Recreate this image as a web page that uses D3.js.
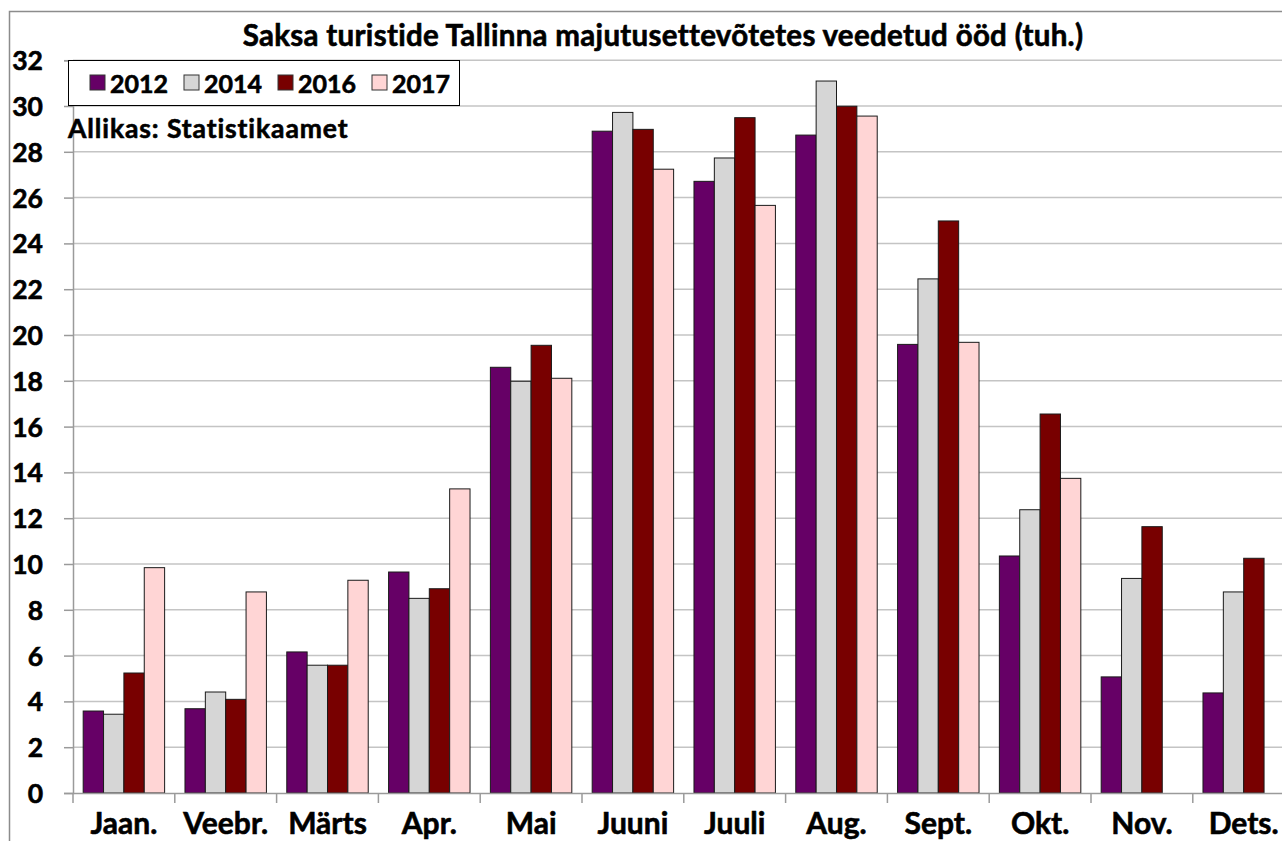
<!DOCTYPE html>
<html>
<head>
<meta charset="utf-8">
<script src="https://cdn.jsdelivr.net/npm/d3@7"></script>
<style>
  html, body { margin: 0; padding: 0; background: #fff; overflow: hidden; }
  svg { display: block; font-family: Lato, "Open Sans", sans-serif; font-weight: bold; }
  .bold { stroke: #000; stroke-width: 0.6px; paint-order: stroke; }
</style>
</head>
<body>
<div id="chart"></div>
<script>
// kuud ja aastad
const months = ["Jaan.", "Veebr.", "Märts", "Apr.", "Mai", "Juuni", "Juuli", "Aug.", "Sept.", "Okt.", "Nov.", "Dets."];
const years = ["2012", "2014", "2016", "2017"];

// ööbimised, tuh.
const v2012 = [3.58, 3.68, 6.16, 9.65, 18.59, 28.90, 26.71, 28.73, 19.59, 10.35, 5.07, 4.37];
const v2014 = [3.44, 4.41, 5.58, 8.50, 17.98, 29.72, 27.73, 31.09, 22.45, 12.37, 9.37, 8.78];
const v2016 = [5.24, 4.09, 5.58, 8.92, 19.55, 28.98, 29.49, 29.99, 24.98, 16.55, 11.63, 10.25];
const v2017 = [9.84, 8.78, 9.29, 13.28, 18.11, 27.24, 25.66, 29.56, 19.68, 13.74, null, null];

const yTicks = d3.range(0, 33, 2);
const colors = ["#660066", "#d6d6d6", "#780000", "#ffd5d5"];

const seriesVals = [v2012, v2014, v2016, v2017];

const W = 1282, H = 841;
const svg = d3.select("#chart").append("svg")
    .attr("width", W)
    .attr("height", H);

// chart frame (only top and left edge are visible)
svg.append("path")
    .attr("d", `M9.5,${H} V11.5 H${W}`)
    .attr("fill", "none")
    .attr("stroke", "#8c8c8c")
    .attr("stroke-width", 1.5);

const left = 73, catW = 101.8;
const x = d3.scaleBand().domain(months).range([left, left + catW * 12]).padding(0);
const xi = d3.scaleBand().domain(years)
    .range([x.bandwidth() * 0.1, x.bandwidth() * 0.9]).padding(0);
const y = d3.scaleLinear().domain([0, 32]).range([793, 60.2]);

// gridlines
svg.append("g")
    .selectAll("line")
    .data(yTicks.filter(d => d > 0))
    .join("line")
    .attr("x1", left)
    .attr("x2", W)
    .attr("y1", d => y(d))
    .attr("y2", d => y(d))
    .attr("stroke", "#c4c4c4")
    .attr("stroke-width", 1.5);

// y axis
const yAxis = svg.append("g")
    .attr("transform", `translate(${left},0)`)
    .call(d3.axisLeft(y).tickValues(yTicks).tickSize(9).tickPadding(21));
yAxis.select(".domain").attr("stroke", "#9a9a9a").attr("stroke-width", 1.5);
yAxis.selectAll(".tick line").attr("stroke", "#9a9a9a").attr("stroke-width", 1.5);
yAxis.selectAll(".tick text")
    .attr("class", "bold")
    .attr("font-size", 26.5)
    .attr("font-family", "Lato, sans-serif")
    .attr("font-weight", "bold")
    .attr("fill", "#000")
    .attr("dy", "0.36em");

// bars
const groups = svg.append("g")
    .selectAll("g")
    .data(months)
    .join("g")
    .attr("transform", d => `translate(${x(d)},0)`);

groups.selectAll("rect")
    .data((m, i) => years.map((yr, k) => ({ yr, k, v: seriesVals[k][i] })).filter(d => d.v != null))
    .join("rect")
    .attr("x", d => xi(d.yr))
    .attr("width", xi.bandwidth())
    .attr("y", d => y(d.v))
    .attr("height", d => y(0) - y(d.v))
    .attr("fill", d => colors[d.k])
    .attr("stroke", "#1a1a1a")
    .attr("stroke-width", 1);

// x axis
const xAxis = svg.append("g")
    .attr("transform", `translate(0,${y(0)})`)
    .call(d3.axisBottom(x).tickSize(0).tickPadding(0));
xAxis.select(".domain").attr("stroke", "#9a9a9a").attr("stroke-width", 1.5);
xAxis.selectAll(".tick text")
    .attr("class", "bold")
    .attr("font-size", 30)
    .attr("font-family", "Lato, sans-serif")
    .attr("font-weight", "bold")
    .attr("fill", "#000")
    .attr("y", 41)
    .attr("dy", 0);
// category separators
svg.append("g")
    .selectAll("line")
    .data(months)
    .join("line")
    .attr("x1", d => x(d))
    .attr("x2", d => x(d))
    .attr("y1", y(0))
    .attr("y2", y(0) + 10)
    .attr("stroke", "#9a9a9a")
    .attr("stroke-width", 1.5);

// title
svg.append("text")
    .attr("class", "bold")
    .attr("x", 663)
    .attr("y", 46)
    .attr("text-anchor", "middle")
    .attr("font-size", 29.5)
    .attr("letter-spacing", 0.3)
    .attr("fill", "#000")
    .text("Saksa turistide Tallinna majutusettevõtetes veedetud ööd (tuh.)");

// legend
const lg = svg.append("g");
lg.append("rect")
    .attr("x", 68.5).attr("y", 60.5)
    .attr("width", 391).attr("height", 45)
    .attr("fill", "#fff")
    .attr("stroke", "#000")
    .attr("stroke-width", 1);
const items = lg.selectAll("g")
    .data(years)
    .join("g")
    .attr("transform", (d, i) => `translate(${90 + i * 94},75)`);
items.append("rect")
    .attr("width", 15).attr("height", 15)
    .attr("fill", (d, i) => colors[i])
    .attr("stroke", "#333")
    .attr("stroke-width", 1);
items.append("text")
    .attr("class", "bold")
    .attr("x", 20)
    .attr("y", 17.5)
    .attr("font-size", 25)
    .attr("fill", "#000")
    .text(d => d);

// source
svg.append("text")
    .attr("class", "bold")
    .attr("x", 68)
    .attr("y", 138)
    .attr("font-size", 26.5)
    .attr("letter-spacing", 0.9)
    .attr("fill", "#000")
    .text("Allikas: Statistikaamet");
</script>
</body>
</html>
